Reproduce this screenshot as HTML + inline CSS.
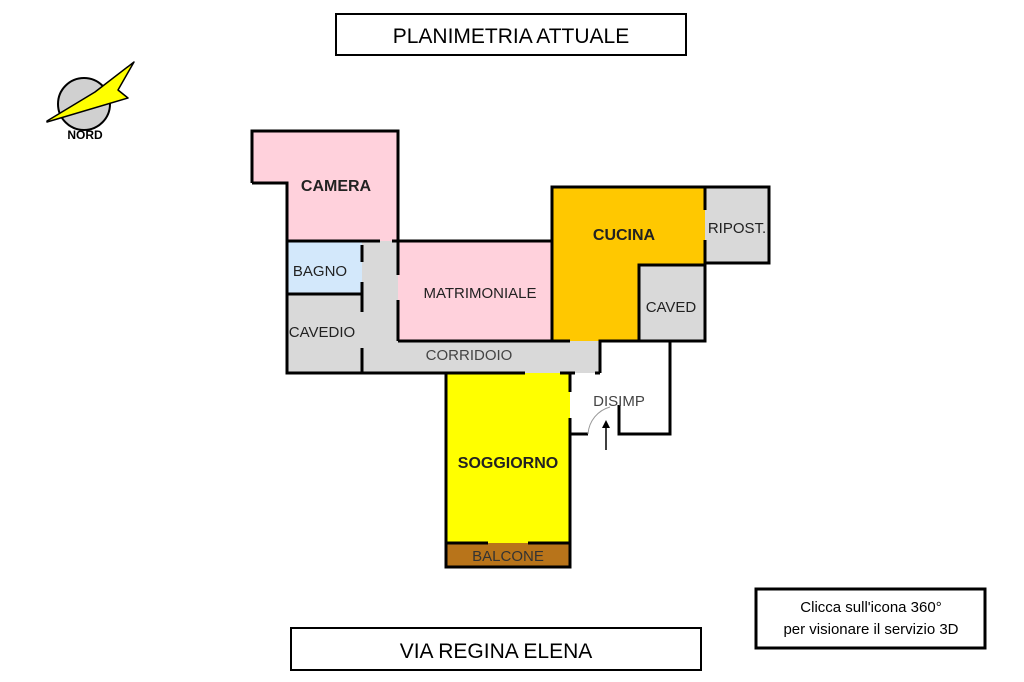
<!DOCTYPE html>
<html><head><meta charset="utf-8"><style>
body{margin:0;background:#fff;}
svg{display:block;font-family:"Liberation Sans",Arial,sans-serif;}
</style></head><body>
<svg width="1024" height="682" viewBox="0 0 1024 682">
<rect x="336" y="14" width="350" height="41" fill="#fff" stroke="#000" stroke-width="2"/>
<text x="511" y="43" font-size="21" text-anchor="middle">PLANIMETRIA ATTUALE</text>
<rect x="291" y="628" width="410" height="42" fill="#fff" stroke="#000" stroke-width="2"/>
<text x="496" y="658" font-size="21" text-anchor="middle">VIA REGINA ELENA</text>
<rect x="756" y="589" width="229" height="59" fill="#fff" stroke="#000" stroke-width="3"/>
<text x="871" y="612" font-size="15" text-anchor="middle">Clicca sull'icona 360°</text>
<text x="871" y="634" font-size="15" text-anchor="middle">per visionare il servizio 3D</text>
<circle cx="84" cy="104" r="26" fill="#d0d0d0" stroke="#000" stroke-width="2"/>
<polygon points="47,121 95,92 134,62 118,90 128,98 47,122" fill="#ffff00" stroke="#000" stroke-width="1.5" stroke-linejoin="round"/>
<text x="85" y="139" font-size="12" font-weight="bold" text-anchor="middle">NORD</text>
<polygon points="252,131 398,131 398,241 287,241 287,183 252,183" fill="#ffd1dc"/>
<rect x="287" y="241" width="75" height="53" fill="#d3e8fb"/>
<polygon points="287,294 362,294 362,241 398,241 398,341 600,341 600,373 287,373" fill="#d9d9d9"/>
<rect x="398" y="241" width="154" height="100" fill="#ffd1dc"/>
<polygon points="552,187 705,187 705,265 639,265 639,341 552,341" fill="#ffc800"/>
<rect x="639" y="265" width="66" height="76" fill="#d9d9d9"/>
<rect x="705" y="187" width="64" height="76" fill="#d9d9d9"/>
<rect x="446" y="373" width="124" height="170" fill="#ffff00"/>
<rect x="446" y="543" width="124" height="24" fill="#b8741a"/>
<g stroke="#000" stroke-width="3" fill="none">
<polyline points="252,183 252,131 398,131 398,241"/>
<polyline points="252,183 287,183 287,373 446,373"/>
<line x1="287" y1="241" x2="380" y2="241"/>
<line x1="392" y1="241" x2="552" y2="241"/>
<line x1="287" y1="294" x2="362" y2="294"/>
<line x1="362" y1="245" x2="362" y2="262"/>
<line x1="362" y1="282" x2="362" y2="312"/>
<line x1="362" y1="348" x2="362" y2="373"/>
<line x1="398" y1="241" x2="398" y2="275"/>
<line x1="398" y1="300" x2="398" y2="341"/>
<line x1="398" y1="341" x2="570" y2="341"/>
<polyline points="552,241 552,187 769,187 769,263 705,263 705,341 600,341 600,373"/>
<line x1="705" y1="187" x2="705" y2="210"/>
<line x1="705" y1="240" x2="705" y2="263"/>
<polyline points="705,265 639,265 639,341"/>
<line x1="552" y1="241" x2="552" y2="341"/>
<line x1="595" y1="373" x2="600" y2="373"/>
<polyline points="446,373 446,567 570,567 570,543"/>
<line x1="446" y1="543" x2="488" y2="543"/>
<line x1="528" y1="543" x2="570" y2="543"/>
<line x1="446" y1="373" x2="525" y2="373"/>
<line x1="560" y1="373" x2="575" y2="373"/>
<line x1="570" y1="373" x2="570" y2="392"/>
<line x1="570" y1="418" x2="570" y2="567"/>
<line x1="570" y1="434" x2="588" y2="434"/>
<polyline points="619,405 619,434 670,434 670,341"/>
</g>
<path d="M588,434 A30,30 0 0 1 610,407" stroke="#999" stroke-width="1" fill="none"/>
<line x1="606" y1="450" x2="606" y2="424" stroke="#000" stroke-width="1.5"/>
<polygon points="606,420 602,428 610,428" fill="#000"/>
<g font-size="15" fill="#222">
<text x="336" y="191" font-weight="bold" font-size="16" text-anchor="middle">CAMERA</text>
<text x="320" y="276" text-anchor="middle">BAGNO</text>
<text x="322" y="337" text-anchor="middle">CAVEDIO</text>
<text x="480" y="298" text-anchor="middle">MATRIMONIALE</text>
<text x="469" y="360" text-anchor="middle" fill="#444">CORRIDOIO</text>
<text x="624" y="240" font-weight="bold" font-size="16" text-anchor="middle">CUCINA</text>
<text x="737" y="233" text-anchor="middle">RIPOST.</text>
<text x="671" y="312" text-anchor="middle">CAVED</text>
<text x="619" y="406" text-anchor="middle" fill="#444">DISIMP</text>
<text x="508" y="468" font-weight="bold" font-size="16" text-anchor="middle">SOGGIORNO</text>
<text x="508" y="561" text-anchor="middle" fill="#333">BALCONE</text>
</g>
</svg>
</body></html>
